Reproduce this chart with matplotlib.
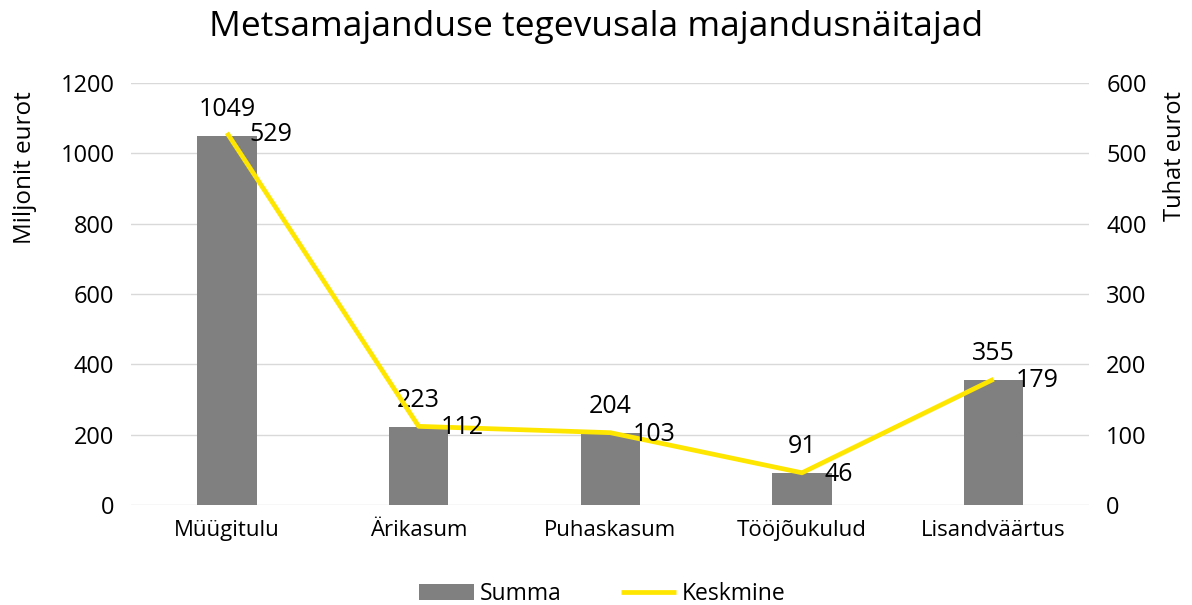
import matplotlib
matplotlib.use("Agg")
import matplotlib.pyplot as plt
import numpy as np

plt.rcParams['font.family'] = ['Open Sans', 'DejaVu Sans']

categories = ["Müügitulu", "Ärikasum", "Puhaskasum", "Tööjõukulud", "Lisandväärtus"]
summa = [1049, 223, 204, 91, 355]          # miljonit eurot
keskmine = [529, 112, 103, 46, 179]        # tuhat eurot

bar_color = "#808080"
line_color = "#FFE600"
grid_color = "#D9D9D9"

fig = plt.figure(figsize=(11.92, 6.05), dpi=100)
ax = fig.add_axes([0.110, 0.165, 0.804, 0.698])
ax2 = ax.twinx()

x = np.arange(len(categories))

# bars (left axis)
bars = ax.bar(x, summa, width=0.31, color=bar_color, zorder=2, label="Summa")
ax.set_ylim(0, 1200)
ax.set_yticks(range(0, 1201, 200))
ax.set_xlim(-0.5, len(categories) - 0.5)
ax.set_xticks(x)
ax.set_xticklabels(categories, fontsize=16)
ax.grid(axis='y', color=grid_color, linewidth=1, zorder=0)
ax.set_axisbelow(True)

# line (right axis)
line, = ax2.plot(x, keskmine, color=line_color, linewidth=3.4, zorder=3,
                 label="Keskmine", solid_capstyle='butt')
ax2.set_ylim(0, 600)
ax2.set_yticks(range(0, 601, 100))

for a in (ax, ax2):
    for s in a.spines.values():
        s.set_visible(False)
    a.tick_params(length=0, colors="#000000")
    a.tick_params(axis='y', labelsize=17, pad=12)
ax.tick_params(axis='x', pad=11)

# data labels
for xi, v in zip(x, summa):
    ax.annotate(str(v), (xi, v), xytext=(0, 19), textcoords='offset points',
                ha='center', va='center', fontsize=18)
for xi, v in zip(x, keskmine):
    ax2.annotate(str(v), (xi, v), xytext=(16, -1), textcoords='offset points',
                 ha='left', va='center', fontsize=18)

fig.text(0.5, 0.955, "Metsamajanduse tegevusala majandusnäitajad",
         ha='center', va='center', fontsize=25.5)
fig.text(0.021, 0.85, "Miljonit eurot", rotation=90, ha='center', va='top', fontsize=17.5)
fig.text(0.986, 0.85, "Tuhat eurot", rotation=90, ha='center', va='top', fontsize=17)

fig.legend([bars, line], ["Summa", "Keskmine"], loc='center',
           bbox_to_anchor=(0.505, 0.018), ncol=2, frameon=False, fontsize=16.5,
           handlelength=2.4, handletextpad=0.25, columnspacing=2.6)

fig.savefig("out.png", dpi=100)
